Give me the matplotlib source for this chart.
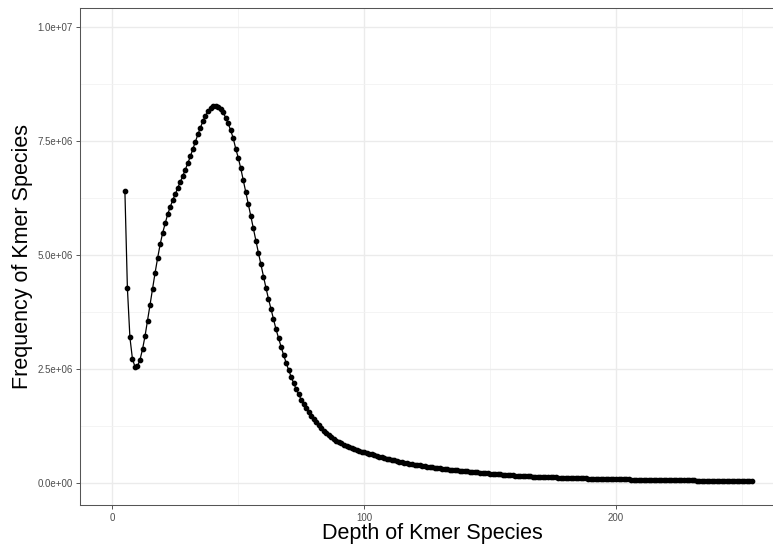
import numpy as np
import matplotlib
matplotlib.use("Agg")
import matplotlib.pyplot as plt
from matplotlib.ticker import MultipleLocator, FuncFormatter

# kmer depth (x) and frequency in millions
depth = list(range(5, 255))
freq_m = [
    6.41, 4.27, 3.19, 2.72, 2.55, 2.56, 2.70, 2.93, 3.22, 3.56,
    3.91, 4.26, 4.61, 4.93, 5.23, 5.48, 5.69, 5.89, 6.05, 6.20,
    6.33, 6.47, 6.60, 6.73, 6.87, 7.01, 7.16, 7.32, 7.48, 7.64,
    7.79, 7.93, 8.05, 8.15, 8.22, 8.26, 8.27, 8.25, 8.20, 8.12,
    8.01, 7.88, 7.73, 7.56, 7.33, 7.13, 6.90, 6.64, 6.37, 6.11,
    5.85, 5.58, 5.31, 5.05, 4.79, 4.52, 4.28, 4.04, 3.82, 3.59,
    3.37, 3.18, 2.99, 2.81, 2.64, 2.48, 2.33, 2.19, 2.06, 1.94,
    1.83, 1.73, 1.64, 1.55, 1.47, 1.40, 1.33, 1.27, 1.21, 1.15,
    1.10, 1.05, 1.01, 0.97, 0.93, 0.90, 0.87, 0.84, 0.81, 0.79,
    0.77, 0.75, 0.73, 0.71, 0.69, 0.67,
    0.655, 0.64, 0.625, 0.61, 0.595, 0.58, 0.565, 0.55, 0.535, 0.52,
    0.507, 0.494, 0.482, 0.47, 0.458, 0.447, 0.436, 0.425, 0.415, 0.405,
    0.395, 0.386, 0.377, 0.368, 0.36, 0.352, 0.344, 0.336, 0.329, 0.322,
    0.315, 0.308, 0.301, 0.295, 0.289, 0.283, 0.277, 0.271, 0.266, 0.261,
    0.255, 0.249, 0.243, 0.237, 0.231, 0.226, 0.220, 0.215, 0.210, 0.205,
    0.200, 0.196, 0.191, 0.187, 0.183, 0.179, 0.175, 0.171, 0.167, 0.164,
    0.160, 0.157, 0.154, 0.151, 0.148, 0.145, 0.142, 0.139, 0.137, 0.134,
    0.132, 0.129, 0.127, 0.125, 0.123, 0.121, 0.119, 0.117, 0.115, 0.113,
    0.111, 0.109, 0.107, 0.106, 0.104, 0.102, 0.101, 0.099, 0.097, 0.096,
    0.094, 0.093, 0.092, 0.090, 0.089, 0.088, 0.086, 0.085, 0.084, 0.083,
    0.081, 0.080, 0.079, 0.078, 0.077, 0.076, 0.075, 0.074, 0.073, 0.072,
    0.071, 0.070, 0.069, 0.068, 0.067, 0.066, 0.065, 0.065, 0.064, 0.063,
    0.062, 0.061, 0.061, 0.060, 0.059, 0.058, 0.058, 0.057, 0.056, 0.056,
    0.055, 0.054, 0.054, 0.053, 0.052, 0.052, 0.051, 0.051, 0.050, 0.049,
    0.049, 0.048, 0.048, 0.047, 0.047, 0.046, 0.046, 0.045, 0.045, 0.044,
    0.044, 0.043, 0.043, 0.042,
]
freq = np.array(freq_m) * 1e6

plt.rcParams['font.family'] = ['Liberation Sans', 'DejaVu Sans']

W, H = 773, 552
fig = plt.figure(figsize=(W / 100, H / 100), dpi=100)
# panel in pixel coords: left 80, right 784 (cropped), top 8, bottom 505
ax = fig.add_axes([80.3 / W, (H - 505) / H, (784 - 80.3) / W, (505 - 8) / H])

ax.plot(depth, freq, color='black', lw=0.9, zorder=3)
ax.plot(depth, freq, 'o', color='black', ms=3.1, zorder=4)

ax.set_xlim(-12.7, 266.7)
ax.set_ylim(-0.482e6, 10.41e6)

ax.xaxis.set_major_locator(MultipleLocator(100))
ax.xaxis.set_minor_locator(MultipleLocator(50))
ax.yaxis.set_major_locator(MultipleLocator(2.5e6))
ax.yaxis.set_minor_locator(MultipleLocator(1.25e6))

def sci(v, pos):
    s = "%.1e" % v
    m, e = s.split('e')
    sign = '+' if int(e) >= 0 else '-'
    return "%se%s%02d" % (m, sign, abs(int(e)))

ax.yaxis.set_major_formatter(FuncFormatter(sci))

ax.grid(True, which='major', color='#ebebeb', lw=1.0, zorder=0)
ax.grid(True, which='minor', color='#f2f2f2', lw=0.6, zorder=0)
ax.set_axisbelow(True)

for s in ax.spines.values():
    s.set_color('#555555')
    s.set_linewidth(0.75)

ax.tick_params(which='major', length=3, width=0.7, color='#555555',
               labelsize=7, labelcolor='#4d4d4d', pad=2.5)
ax.tick_params(which='minor', length=0)

ax.set_xlabel('Depth of Kmer Species', fontsize=15.5, labelpad=0.5)
ax.set_ylabel('Frequency of Kmer Species', fontsize=15.5, labelpad=3)

fig.savefig('out.png', dpi=100, facecolor='white')
